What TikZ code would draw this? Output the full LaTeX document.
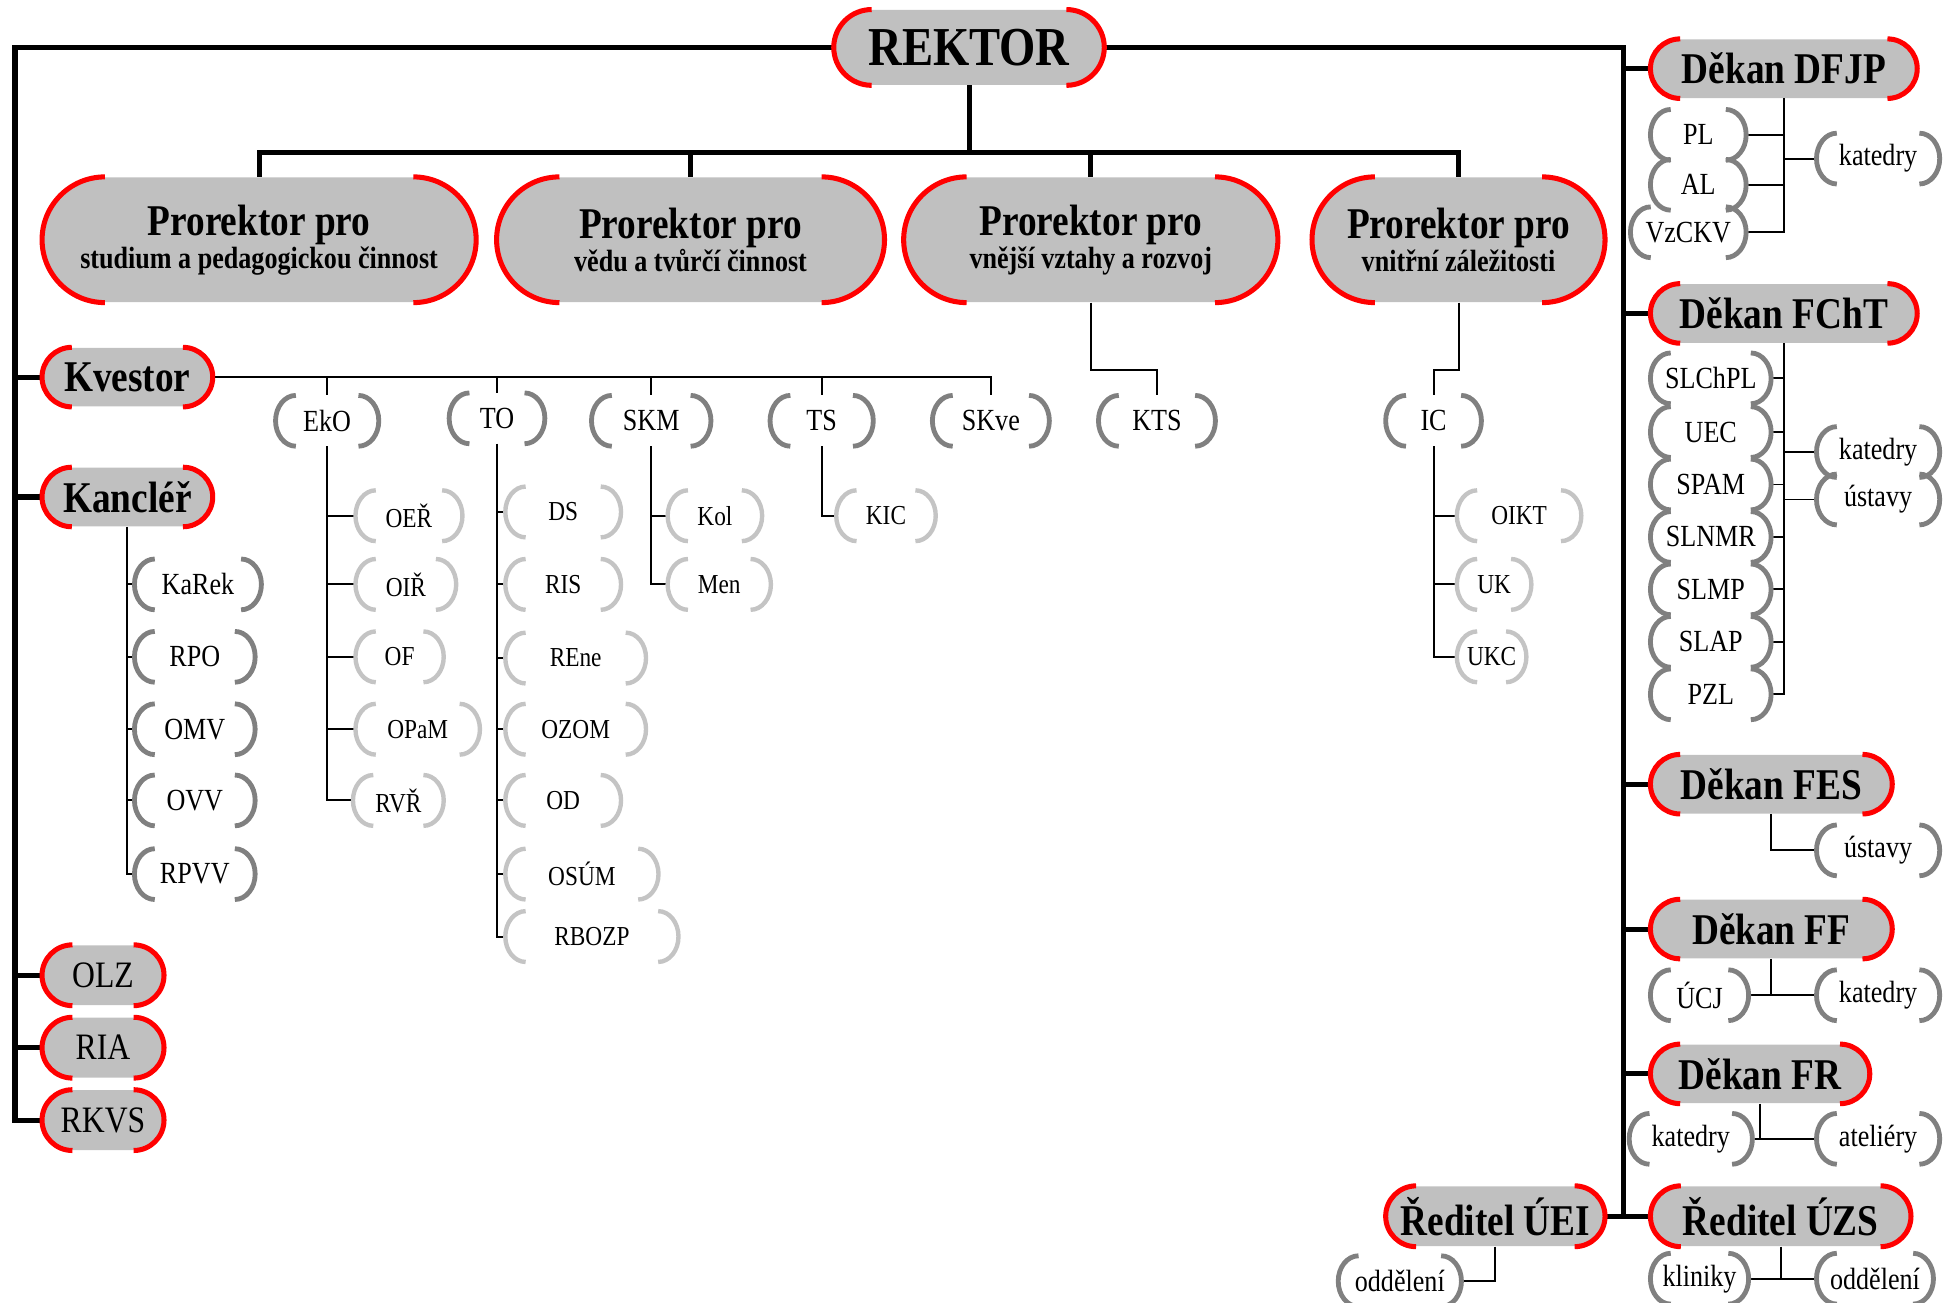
\documentclass[tikz,border=0pt]{standalone}
\usepackage{fontspec}
\setmainfont{Liberation Serif}[FakeStretch=0.85]
\usetikzlibrary{calc}

\definecolor{boxgray}{HTML}{C0C0C0}
\definecolor{unitgray}{HTML}{808080}
\definecolor{subgray}{HTML}{C4C4C4}

\tikzset{
  bus/.style={line width=2.3pt},
  link/.style={line width=0.9pt},
  chief/.style={rectangle, fill=boxgray, inner sep=0pt, minimum height=0.94cm,
    rounded corners=0.47cm, font=\bfseries\fontsize{20}{22}\selectfont},
  prorektor/.style={chief, minimum height=2cm, rounded corners=1cm, align=center,
    font=\bfseries\fontsize{20}{15}\selectfont},
  office/.style={chief, minimum height=0.96cm, rounded corners=0.48cm,
    font=\fontsize{17}{19}\selectfont},
  unit/.style={rectangle, inner sep=0pt, minimum height=0.8cm, font=\fontsize{14}{16}\selectfont},
  subunit/.style={unit, font=\fontsize{12.5}{14}\selectfont},
  redend/.style={red, line width=2.3pt},
  unitend/.style={unitgray, line width=2.2pt},
  subend/.style={subgray, line width=2pt},
}

% red ends of the grey boxes
\newcommand\roundends[1]{%
  \draw[redend] let \p1=(#1.north), \p2=(#1.south), \p3=(#1.west), \p4=(#1.east),
    \n1={(\y1-\y2)/2} in
    ({\x3+\n1},\y1) arc[start angle=90, end angle=270, radius=\n1]
    ({\x4-\n1},\y1) arc[start angle=90, end angle=-90, radius=\n1];}
% bracket ends of the small boxes
\newcommand\parens[2]{%
  \draw[#2] let \p1=(#1.north), \p2=(#1.south), \p3=(#1.west), \p4=(#1.east),
    \n1={(\y1-\y2)/2}, \n2={0.8*\n1} in
    ({\x3+\n2},\y1) arc[start angle=90, end angle=270, x radius=\n2, y radius=\n1]
    ({\x4-\n2},\y1) arc[start angle=90, end angle=-90, x radius=\n2, y radius=\n1];}

\begin{document}
\begin{tikzpicture}[x=0.02cm, y=-0.02cm]
  \useasboundingbox (0,0) rectangle (1568,1043);

  % top
  \node[chief, minimum width=4.32cm, minimum height=1.2cm, rounded corners=0.6cm,
    font=\bfseries\fontsize{25}{27}\selectfont] (rektor) at (776,38) {REKTOR};
  \node[prorektor, minimum width=6.94cm] (pro1) at (207.5,192)
    {Prorektor pro\\\fontsize{14}{15}\selectfont studium a pedagogickou činnost};
  \node[prorektor, minimum width=6.2cm] (pro2) at (553,192)
    {Prorektor pro\\\fontsize{14}{15}\selectfont vědu a tvůrčí činnost};
  \node[prorektor, minimum width=5.98cm] (pro3) at (873.5,192)
    {Prorektor pro\\\fontsize{14}{15}\selectfont vnější vztahy a rozvoj};
  \node[prorektor, minimum width=4.68cm] (pro4) at (1168,192)
    {Prorektor pro\\\fontsize{14}{15}\selectfont vnitřní záležitosti};

  % left column
  \node[chief, minimum width=2.72cm] (kvestor) at (102,302) {Kvestor};
  \node[chief, minimum width=2.72cm] (kancler) at (102,398) {Kancléř};
  \node[office, minimum width=1.94cm] (olz) at (82.5,781) {OLZ};
  \node[office, minimum width=1.94cm] (ria) at (82.5,839) {RIA};
  \node[office, minimum width=1.94cm] (rkvs) at (82.5,897) {RKVS};

  \node[unit, minimum width=2.02cm] (karek) at (158.5,468) {KaRek};
  \node[unit, minimum width=1.92cm] (rpo) at (156,526) {RPO};
  \node[unit, minimum width=1.92cm] (omv) at (156,584) {OMV};
  \node[unit, minimum width=1.92cm] (ovv) at (156,641) {OVV};
  \node[unit, minimum width=1.92cm] (rpvv) at (156,700) {RPVV};

  % units
  \node[unit, minimum width=1.64cm] (eko) at (262,337) {EkO};
  \node[unit, minimum width=1.52cm] (to) at (398,335) {TO};
  \node[unit, minimum width=1.9cm] (skm) at (521.5,337) {SKM};
  \node[unit, minimum width=1.64cm] (ts) at (658,337) {TS};
  \node[unit, minimum width=1.86cm] (skve) at (793.5,337) {SKve};
  \node[unit, minimum width=1.86cm] (kts) at (926.5,337) {KTS};
  \node[unit, minimum width=1.52cm] (ic) at (1148,337) {IC};

  \node[subunit, minimum width=1.7cm] (oer) at (327.5,413) {OEŘ};
  \node[subunit, minimum width=1.6cm] (oir) at (325,468) {OIŘ};
  \node[subunit, minimum width=1.4cm] (of) at (320,526) {OF};
  \node[subunit, minimum width=1.98cm] (opam) at (334.5,584) {OPaM};
  \node[subunit, minimum width=1.44cm] (rvr) at (319,641) {RVŘ};

  \node[subunit, minimum width=1.84cm] (ds) at (451,410) {DS};
  \node[subunit, minimum width=1.84cm] (ris) at (451,468) {RIS};
  \node[subunit, minimum width=2.24cm] (rene) at (461,527) {REne};
  \node[subunit, minimum width=2.24cm] (ozom) at (461,584) {OZOM};
  \node[subunit, minimum width=1.84cm] (od) at (451,641) {OD};
  \node[subunit, minimum width=2.44cm] (osum) at (466,700) {OSÚM};
  \node[subunit, minimum width=2.76cm] (rbozp) at (474,750) {RBOZP};

  \node[subunit, minimum width=1.5cm] (kol) at (572.5,413) {Kol};
  \node[subunit, minimum width=1.64cm] (men) at (576,468) {Men};
  \node[subunit, minimum width=1.58cm] (kic) at (709.5,413) {KIC};

  \node[subunit, minimum width=1.98cm] (oikt) at (1216.5,413) {OIKT};
  \node[subunit, minimum width=1.18cm] (uk) at (1196.5,468) {UK};
  \node[subunit, minimum width=1.1cm] (ukc) at (1194.5,526) {UKC};

  % faculties
  \node[chief, minimum width=4.26cm] (dfjp) at (1428.5,55) {Děkan DFJP};
  \node[chief, minimum width=4.26cm] (fcht) at (1428.5,251) {Děkan FChT};
  \node[chief, minimum width=3.86cm] (fes) at (1418.5,628) {Děkan FES};
  \node[chief, minimum width=3.86cm] (ff) at (1418.5,744) {Děkan FF};
  \node[chief, minimum width=3.5cm] (fr) at (1409.5,860) {Děkan FR};
  \node[chief, minimum width=3.5cm, minimum height=0.96cm, rounded corners=0.48cm] (uei) at (1197.5,974) {Ředitel ÚEI};
  \node[chief, minimum width=4.16cm, minimum height=0.96cm, rounded corners=0.48cm] (uzs) at (1426,974) {Ředitel ÚZS};

  \node[unit, minimum width=1.52cm] (pl) at (1360,108) {PL};
  \node[unit, minimum width=1.52cm] (al) at (1360,148) {AL};
  \node[unit, minimum width=1.84cm] (vzckv) at (1352,186) {VzCKV};
  \node[unit, minimum width=1.96cm] (kat1) at (1504,127) {katedry};

  \node[unit, minimum width=1.92cm] (slchpl) at (1370,303) {SLChPL};
  \node[unit, minimum width=1.92cm] (uec) at (1370,346) {UEC};
  \node[unit, minimum width=1.92cm] (spam) at (1370,388) {SPAM};
  \node[unit, minimum width=1.92cm] (slnmr) at (1370,430) {SLNMR};
  \node[unit, minimum width=1.92cm] (slmp) at (1370,472) {SLMP};
  \node[unit, minimum width=1.92cm] (slap) at (1370,514) {SLAP};
  \node[unit, minimum width=1.92cm] (pzl) at (1370,556) {PZL};
  \node[unit, minimum width=1.96cm] (kat2) at (1504,362) {katedry};
  \node[unit, minimum width=1.96cm] (ust1) at (1504,400) {ústavy};

  \node[unit, minimum width=1.96cm] (ust2) at (1504,681) {ústavy};
  \node[unit, minimum width=1.56cm] (ucj) at (1361,797) {ÚCJ};
  \node[unit, minimum width=1.96cm] (kat3) at (1504,797) {katedry};
  \node[unit, minimum width=1.96cm] (kat4) at (1354,912) {katedry};
  \node[unit, minimum width=1.96cm] (atel) at (1504,912) {ateliéry};
  \node[unit, minimum width=1.56cm] (klin) at (1361,1024) {kliniky};
  \node[unit, minimum width=1.86cm] (odd2) at (1501.5,1024) {oddělení};
  \node[unit, minimum width=1.96cm] (odd1) at (1121,1026) {oddělení};

  % thick lines
  \coordinate (lbus) at (12,897);
  \coordinate (rbus) at (1300,974);
  \coordinate (hub) at (776,122);
  \draw[bus] (rektor.west) -| (lbus) -- (rkvs.west);
  \foreach \o in {kvestor,kancler,olz,ria}
    \draw[bus] (lbus |- \o.west) -- (\o.west);
  \draw[bus] (rektor.east) -| (rbus);
  \draw[bus] (uei.east) -- (uzs.west);
  \foreach \o in {dfjp,fcht,fes,ff,fr}
    \draw[bus] (rbus |- \o.west) -- (\o.west);
  \draw[bus] (rektor.south) -- (hub);
  \draw[bus] (pro1.north) |- (hub) -| (pro4.north);
  \foreach \o in {pro2,pro3}
    \draw[bus] (\o.north |- hub) -- (\o.north);

  % thin lines, left part
  \draw[link] (kvestor.east) -- (skve.north |- kvestor.east) -- (skve.north);
  \foreach \u in {eko,to,skm,ts}
    \draw[link] (\u.north |- kvestor.east) -- (\u.north);
  \draw[link] (kancler.south) |- (rpvv.west);
  \foreach \u in {karek,rpo,omv,ovv}
    \draw[link] (kancler.south |- \u.west) -- (\u.west);
  \draw[link] (eko.south) |- (rvr.west);
  \foreach \u in {oer,oir,of,opam}
    \draw[link] (eko.south |- \u.west) -- (\u.west);
  \draw[link] (to.south) |- (rbozp.west);
  \foreach \u in {ds,ris,rene,ozom,od,osum}
    \draw[link] (to.south |- \u.west) -- (\u.west);
  \draw[link] (skm.south) |- (men.west);
  \draw[link] (skm.south |- kol.west) -- (kol.west);
  \draw[link] (ts.south) |- (kic.west);
  \draw[link] (pro3.south) -- ++(0,54) -| (kts.north);
  \draw[link] (pro4.south) -- ++(0,54) -| (ic.north);
  \draw[link] (ic.south) |- (ukc.west);
  \foreach \u in {oikt,uk}
    \draw[link] (ic.south |- \u.west) -- (\u.west);

  % thin lines, faculties
  \draw[link] (dfjp.south) |- (vzckv.east);
  \foreach \u in {pl,al}
    \draw[link] (\u.east) -- (\u.east -| dfjp.south);
  \draw[link] (kat1.west) -- (kat1.west -| dfjp.south);
  \draw[link] (fcht.south) |- (pzl.east);
  \foreach \u in {slchpl,uec,spam,slnmr,slmp,slap}
    \draw[link] (\u.east) -- (\u.east -| fcht.south);
  \foreach \u in {kat2,ust1}
    \draw[link] (\u.west) -- (\u.west -| fcht.south);
  \draw[link] (fes.south) |- (ust2.west);
  \draw[link] (ucj.east) -- (kat3.west);
  \draw[link] (ff.south) -- (ff.south |- ucj.east);
  \draw[link] (kat4.east) -- (atel.west);
  \draw[link] (fr.south) -- (fr.south |- kat4.east);
  \draw[link] (klin.east) -- (odd2.west);
  \draw[link] (uzs.south) -- (uzs.south |- klin.east);
  \draw[link] (uei.south) |- (odd1.east);

  % box ends
  \foreach \who in {rektor,pro1,pro2,pro3,pro4,kvestor,kancler,olz,ria,rkvs,
      dfjp,fcht,fes,ff,fr,uei,uzs}
    \roundends{\who};
  \foreach \who in {karek,rpo,omv,ovv,rpvv,eko,to,skm,ts,skve,kts,ic,
      pl,al,vzckv,kat1,slchpl,uec,spam,slnmr,slmp,slap,pzl,kat2,ust1,
      ust2,ucj,kat3,kat4,atel,klin,odd2,odd1}
    \parens{\who}{unitend};
  \foreach \who in {oer,oir,of,opam,rvr,ds,ris,rene,ozom,od,osum,rbozp,
      kol,men,kic,oikt,uk,ukc}
    \parens{\who}{subend};
\end{tikzpicture}
\end{document}
